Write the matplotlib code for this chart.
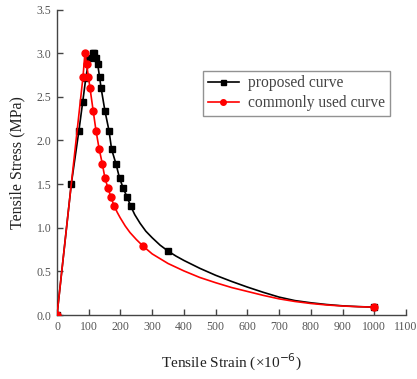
import matplotlib
matplotlib.use("Agg")
import matplotlib.pyplot as plt

# proposed curve: marker points
proposed_x = [0, 45, 69, 81, 91, 101, 113, 118, 124, 128, 134, 139, 151, 164, 172, 186, 197, 209, 221, 232, 351, 1000]
proposed_y = [0, 1.5, 2.11, 2.44, 2.72, 2.94, 3.0, 3.0, 2.94, 2.88, 2.73, 2.6, 2.34, 2.11, 1.9, 1.73, 1.57, 1.45, 1.35, 1.25, 0.73, 0.09]
# proposed curve: extra points (no markers)
proposed_curve_x = [245, 262, 280, 300, 325, 375, 400, 450, 500, 550, 600, 650, 700, 750, 800, 850, 900, 950]
proposed_curve_y = [1.15, 1.05, 0.96, 0.885, 0.80, 0.675, 0.625, 0.535, 0.455, 0.385, 0.32, 0.26, 0.205, 0.165, 0.14, 0.12, 0.105, 0.096]

# commonly used curve: marker points
common_x = [0, 82, 88, 93, 99, 104, 114, 123, 133, 143, 151, 161, 170, 180, 271, 1000]
common_y = [0, 2.73, 3.0, 2.88, 2.73, 2.6, 2.34, 2.11, 1.9, 1.73, 1.57, 1.45, 1.35, 1.25, 0.79, 0.09]
# commonly used curve: extra points (no markers)
common_curve_x = [190, 199, 215, 230, 250, 300, 350, 400, 450, 500, 550, 600, 650, 700, 750, 800, 850, 900, 950]
common_curve_y = [1.175, 1.115, 1.02, 0.945, 0.865, 0.70, 0.59, 0.505, 0.43, 0.37, 0.315, 0.27, 0.225, 0.185, 0.155, 0.132, 0.115, 0.103, 0.095]

x_ticks = [0, 100, 200, 300, 400, 500, 600, 700, 800, 900, 1000, 1100]
y_ticks = [0.0, 0.5, 1.0, 1.5, 2.0, 2.5, 3.0, 3.5]


def merged(mx, my, cx, cy):
    pts = sorted([(x, y, True) for x, y in zip(mx, my)] + [(x, y, False) for x, y in zip(cx, cy)],
                 key=lambda p: p[0])
    xs = [p[0] for p in pts]
    ys = [p[1] for p in pts]
    mk = [i for i, p in enumerate(pts) if p[2]]
    return xs, ys, mk


fig = plt.figure(figsize=(4.17, 3.79), dpi=100)
ax = fig.add_axes([57 / 417, 1 - 315 / 379, 349 / 417, 305.5 / 379])

px, py, pm = merged(proposed_x, proposed_y, proposed_curve_x, proposed_curve_y)
ax.plot(px, py, color="black", lw=1.2, marker="s", markersize=4.5, markevery=pm,
        label="proposed curve", zorder=3)
cx, cy, cm = merged(common_x, common_y, common_curve_x, common_curve_y)
ax.plot(cx, cy, color="red", lw=1.2, marker="o", markersize=5, markevery=cm,
        label="commonly used curve", zorder=4)

ax.set_xlim(0, 1100)
ax.set_ylim(0, 3.5)
ax.set_xticks(x_ticks)
ax.set_yticks(y_ticks)
ax.set_xticklabels([str(t) for t in x_ticks])
ax.set_yticklabels(["%.1f" % t for t in y_ticks])
ax.spines["top"].set_visible(False)
ax.spines["right"].set_visible(False)
for s in ("left", "bottom"):
    ax.spines[s].set_color("#444444")
    ax.spines[s].set_linewidth(1.0)
ax.tick_params(direction="in", length=4, width=1, colors="#444444", labelcolor="#555555",
               labelsize=8.5, pad=4)
for lab in ax.get_xticklabels() + ax.get_yticklabels():
    lab.set_fontfamily("Liberation Serif")

ax.set_xlabel("Tensile Strain (\u00d710$^{-6}$)", fontsize=11, family="Liberation Serif",
              color="#222222", labelpad=14)
ax.set_ylabel("Tensile Stress (MPa)", fontsize=11.5, family="Liberation Serif",
              color="#222222", labelpad=8)

leg = ax.legend(loc="upper left", bbox_to_anchor=(0.418, 0.80), borderaxespad=0,
                prop={"family": "Liberation Serif", "size": 11.2}, frameon=True, fancybox=False,
                edgecolor="#777777", handlelength=2.0, handletextpad=0.6, borderpad=0.3,
                labelspacing=0.25, markerscale=0.8)
leg.get_frame().set_linewidth(1.0)
for t in leg.get_texts():
    t.set_color("#444444")

fig.savefig("out.png", dpi=100)
